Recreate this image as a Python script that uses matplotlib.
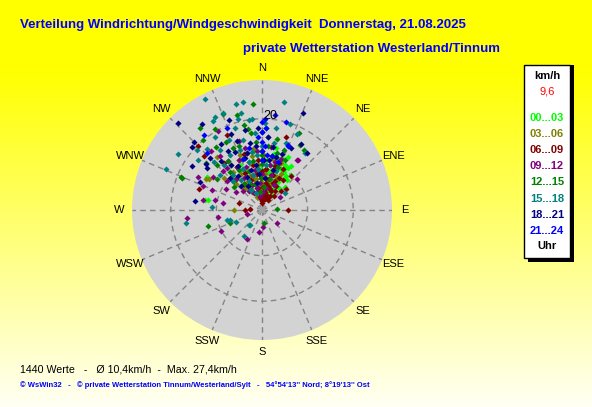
import numpy as np
import matplotlib
matplotlib.use("Agg")
import matplotlib.pyplot as plt
from matplotlib.patches import Rectangle

# wind direction (deg, clockwise from north) and speed (km/h), grouped by 3-hour slot
hour_labels = ["00...03", "03...06", "06...09", "09...12", "12...15", "15...18", "18...21", "21...24"]
hour_colors = ["#00ff00", "#808000", "#800000", "#800080", "#008000", "#008080", "#000080", "#0000ff"]

dir_00_03 = [35, 29, 17, -80, -59, 27, 32, 29, -80, -26, -43,
             5, 10, 15, 20, 25, 22, 12, 8, 18, 30, 35, 40, -5, -10, -15, 0, 3, 14, 24, 33,
             -20, -30, 26, 6, 16, 38, 45, -35, 11, 21, 28, -2, -8, 13, 19, 9,
             15, 25, -10, 5, 35, 20, -25, -45, 0, 10, 30, 40]
spd_00_03 = [8.3, 10.5, 11.7, 12, 14, 11, 10.8, 8, 12.7, 11, 9.6,
             9, 10, 8, 9.5, 10, 12, 12.5, 7, 6, 7, 9, 8.5, 10, 8, 11, 12, 6, 9, 7.5, 11.5,
             9, 10, 13, 11, 10.5, 6, 7, 12, 5, 8, 5.5, 9, 13, 14, 11, 8.5,
             4, 3, 4, 5.5, 4, 12, 7, 8, 7, 6, 9.5, 10]

dir_03_06 = [-90, -61, -60, -40,
             -30, -20, -10, 0, 10, 20, -25, -15, -5, 5, 15, 25, -35, -45, -12, 8, 18, -22,
             2, -8, 12, -38, -50, 28, -18, 4, -3, 14, -28, 22,
             -20, 0, 10, -30, -40, 20, -15, 5, -5, 15, -25, -10]
spd_03_06 = [6.1, 14, 13.5, 15.2,
             9, 8, 7, 6, 7, 6, 12, 11, 10, 9, 9, 8, 6, 8, 5, 4, 10, 13,
             12, 13.5, 11.5, 10.5, 11, 9, 4, 3, 8, 5.5, 7, 11,
             3, 4.5, 5, 4.5, 6, 3.5, 7, 8, 5, 7, 10, 12]

dir_06_09 = [90, 40, 18, -72, -47, -73, -90, -87, -39, -45, -25,
             0, 5, 10, 15, 20, 25, 30, 35, -5, -10, -15, -20, 8, 12, 18, 22, 28, 3, -2, -8,
             14, 24, 32, 40, 6, 16, -12, -25, -30, 10, 20, -18, 0, 27, 45, 50, -4, 2, 13,
             -35, -40, -5, 8, 25, 35, -10, 18, -15, 30]
spd_06_09 = [5.7, 9.8, 16.8, 14.6, 17.4, 5.3, 3.7, 2.6, 13.2, 19.7, 18.1,
             2, 3, 4, 3.5, 5, 4.5, 6, 5, 4, 5, 6, 7, 6, 7, 8, 6.5, 8, 5, 7, 8,
             2.5, 3, 3.5, 4, 9, 10, 10, 9, 11, 12, 11, 13, 8.5, 10, 6, 7, 11, 1.5, 5.5,
             7, 9, 2.5, 3, 7, 8, 3, 5, 4, 2.5]

dir_09_12 = [-96, -117, -153, -172, 131, -99, 177, -105, 48, 54, -63, -56, -80, -80, -68,
             -29, -41, -68, 35, -78, 36,
             -50, -40, -30, -20, -10, 0, 10, -45, -35, -25, -15, -5, 5, 15, -55, -60,
             -22, -12, 2, 20, -38, -18, 8, 25,
             -45, -35, -25, -5, 10, -15, 0, -30, -40, 15, -8]
spd_09_12 = [16.5, 10.1, 7.2, 4.9, 4.4, 9.8, 3.7, 3.4, 10.3, 4.9, 15.7, 13, 13.1, 8.7, 11.8,
             19.8, 17.2, 14, 13.4, 10.5, 13.5,
             10, 9, 8, 10, 9, 11, 10, 12, 13, 12, 14, 13, 7, 8, 7, 9,
             6, 5, 4, 12, 15, 16, 14, 6,
             6, 5, 4, 6, 5, 8, 8, 11, 12, 11, 3]

dir_12_15 = [-5, -37, -22, -30, -10, -40, -36, -68, -106, 86, 171, -68, -112, 26, -15, 30, 35,
             -45, -35, -25, -15, -5, 5, 15, -40, -30, -20, -10, 0, 10, 20, -50, -28, -8, 12,
             -18, -2, 25, -55, -12, 3,
             -45, -35, -25, -15, -5, 5, -30, 15, -50, -20, 0, 20]
spd_12_15 = [23.3, 22.5, 22.7, 20.5, 18, 20, 17, 19.2, 12.4, 3.3, 2.9, 18.9, 7.6, 18.7, 21.5, 16.5, 16,
             14, 13, 15, 13, 15, 14, 13, 11, 10, 12, 11, 10, 12, 10, 16, 17, 17, 16,
             9, 7, 12, 12, 19, 18,
             9, 7, 6, 6, 4, 5, 5, 7, 8, 15, 12, 14]

dir_15_18 = [-27, 11.5, -14, -12, -15, -27, -29, -22, -67, -47, -52, 18, 25, 20, 37, 54, -141, -107,
             -100, -106, -115, -139, -145, -87, -10, -56, -6, 10,
             -45, -35, -25, -15, -5, 5, -40, -30, -20, -10, 0, 10, -50, -25, -15, -5, 15,
             -33, -18, -8, -42, 2,
             -45, -35, -25, -15, -5, 5, -40, -30, -20, -10, 20]
spd_15_18 = [27.4, 24.2, 24, 21.7, 20.7, 22.9, 22.3, 23, 22.9, 19.4, 17.8, 19.8, 18.4, 15.7, 15.7, 6.3, 4.2, 7.3,
             17, 8, 6.3, 4.4, 6.9, 11, 24, 22.1, 20, 18.3,
             15, 16, 17, 16, 17, 16, 13, 14, 14, 13, 14, 15, 12, 10, 11, 12, 12,
             19, 19, 20, 18, 19,
             9, 8, 7, 8, 9, 10, 10, 5, 4, 6, 9]

dir_18_21 = [-44, 23, -82, 31, 38, -48, -51, -66, -45, -53, -35, -20, -58,
             0, 0, 2, -5, -10, -15, -20, -25, -30, -35, -40, 5, 10, 15, 20, -3, -12, -22,
             -28, -8, 8, -45, -32, 25, -18,
             -45, -35, -25, -15, -5, 5, 15, -40, -30, -10]
spd_18_21 = [26.5, 23.2, 14.9, 16.8, 15.9, 20.6, 15.9, 14.9, 21.2, 15.2, 23, 21, 18,
             13, 17, 11, 14, 15, 13, 16, 14, 15, 12, 14, 16, 14, 12, 13, 18, 18, 18,
             11, 10, 11, 16, 17, 15, 12,
             10, 9, 8, 9, 8, 7, 9, 7, 6, 6]

dir_21_24 = [-23, 22, 0, -44, -38, 22, 8, 15,
             0, 0, 0, 0, 3, 3, -3, 5, 10, -12, -20, 18, 2]
spd_21_24 = [19.6, 15.2, 19.3, 17.5, 20.8, 15.4, 21, 20,
             11, 13, 15, 17, 14, 18, 16, 12, 12, 14, 12, 11, 20]

all_dirs = [dir_00_03, dir_03_06, dir_06_09, dir_09_12, dir_12_15, dir_15_18, dir_18_21, dir_21_24]
all_spds = [spd_00_03, spd_03_06, spd_06_09, spd_09_12, spd_12_15, spd_15_18, spd_18_21, spd_21_24]

compass = ["N", "NNE", "NE", "ENE", "E", "ESE", "SE", "SSE",
           "S", "SSW", "SW", "WSW", "W", "WNW", "NW", "NNW"]

W, H = 592, 407
fig = plt.figure(figsize=(W / 100, H / 100), dpi=100)

# yellow -> pale gradient background
bg = fig.add_axes([0, 0, 1, 1])
ypix = np.arange(H).reshape(-1, 1)
rgb = np.ones((H, 1, 3))
rgb[:, :, 2] = np.clip((ypix - 70) / (H - 70), 0, 1) * 0.96
bg.imshow(rgb, aspect="auto", extent=[0, 1, 0, 1], origin="upper")
bg.set_axis_off()

def fx(x):
    return x / W

def fy(y):
    return 1 - y / H

rmax = 28.5
cx, cy, rad = 262, 210, 130
ax = fig.add_axes([fx(cx - rad), fy(cy + rad), 2 * rad / W, 2 * rad / H], projection="polar")
ax.set_theta_zero_location("N")
ax.set_theta_direction(-1)
ax.set_facecolor("#d3d3d3")
ax.spines["polar"].set_visible(False)
ax.set_ylim(0, rmax)
ax.set_rticks([10, 20])
ax.set_yticklabels([])
ax.set_xticks(np.deg2rad(np.arange(0, 360, 22.5)))
ax.set_xticklabels([])
ax.grid(True, color="#858585", linestyle=(0, (4, 3)), linewidth=1)

for i in range(len(all_dirs)):
    th = np.deg2rad(np.array(all_dirs[i]))
    ax.plot(th, all_spds[i], linestyle="none", marker="D", markersize=3.1,
            markeredgewidth=0, color=hour_colors[i], zorder=3)

ax.plot([0], [0], marker="s", markersize=4, color="#a0a0a0", markeredgewidth=0, zorder=2)
ax.text(np.deg2rad(5), 20.6, "20", fontsize=9, ha="center", va="center",
        family="Liberation Sans", zorder=4)

for k, name in enumerate(compass):
    ax.text(np.deg2rad(k * 22.5), 31.2, name, ha="center", va="center", fontsize=8,
            family="Liberation Sans", clip_on=False)

# titles
fig.text(fx(20), fy(25), "Verteilung Windrichtung/Windgeschwindigkeit  Donnerstag, 21.08.2025",
         color="#0000ff", fontsize=9.5, fontweight="bold", va="center", family="Liberation Sans")
fig.text(fx(243), fy(49), "private Wetterstation Westerland/Tinnum",
         color="#0000ff", fontsize=9.5, fontweight="bold", va="center", family="Liberation Sans")

# legend box with shadow
fig.patches.append(Rectangle((fx(528), fy(262)), fx(46), 197 / H, transform=fig.transFigure,
                             facecolor="black", edgecolor="none", zorder=5))
fig.patches.append(Rectangle((fx(524), fy(258)), fx(46), 193 / H, transform=fig.transFigure,
                             facecolor="white", edgecolor="black", linewidth=1, zorder=6))
lx = fx(547)
fig.text(lx, fy(76), "km/h", ha="center", va="center", fontsize=8, fontweight="bold",
         family="Liberation Sans", zorder=7)
fig.text(lx, fy(92), "9,6", ha="center", va="center", fontsize=8, color="#ff0000",
         family="Liberation Sans", zorder=7)
for i, lab in enumerate(hour_labels):
    fig.text(lx, fy(118 + i * 16.1), lab, ha="center", va="center", fontsize=8,
             fontweight="bold", color=hour_colors[i], family="Liberation Sans", zorder=7)
fig.text(lx, fy(246), "Uhr", ha="center", va="center", fontsize=8, fontweight="bold",
         family="Liberation Sans", zorder=7)

# footer
fig.text(fx(20), fy(369), "1440 Werte   -   \u00d8 10,4km/h  -  Max. 27,4km/h",
         fontsize=7.7, va="center", family="Liberation Sans")
fig.text(fx(20), fy(385),
         "\u00a9 WsWin32   -   \u00a9 private Wetterstation Tinnum/Westerland/Sylt   -   "
         "54\u00b054'13'' Nord; 8\u00b019'13'' Ost",
         fontsize=5.5, va="center", color="#0000ff", fontweight="bold", family="Liberation Sans")

fig.savefig("out.png", dpi=100)
